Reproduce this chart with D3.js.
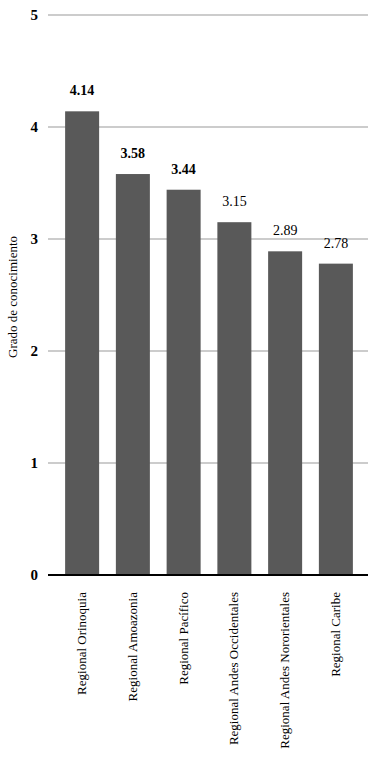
<!DOCTYPE html>
<html>
<head>
<meta charset="utf-8">
<script src="https://cdn.jsdelivr.net/npm/d3@7.9.0/dist/d3.min.js"></script>
<style>
  html, body { margin: 0; padding: 0; background: #fff; }
  svg text { font-family: "Times New Roman", "Liberation Serif", "DejaVu Serif", serif; fill: #000; }
</style>
</head>
<body>
<div id="chart"></div>
<script>
// ---- data ----
const regions = [
  'Regional Orinoquia',
  'Regional Amoazonia',
  'Regional Pacífico',
  'Regional Andes Occidentales',
  'Regional Andes Nororientales',
  'Regional Caribe'
];
const values = [4.14, 3.58, 3.44, 3.15, 2.89, 2.78];
const yTicks = [0, 1, 2, 3, 4, 5];
const yTitle = 'Grado de conocimiento';

const width = 375, height = 772;
const svg = d3.select('#chart').append('svg')
  .attr('width', width)
  .attr('height', height);

// plot area
const plot = { left: 48, right: 368, top: 15, bottom: 575 };

const x = d3.scaleBand()
  .domain(regions)
  .range([57, 361])
  .paddingInner(0.33)
  .paddingOuter(0.16);

const y = d3.scaleLinear().domain([0, 5]).range([plot.bottom, plot.top]);

// gridlines
svg.append('g')
  .selectAll('line')
  .data(yTicks.filter(d => d > 0))
  .join('line')
  .attr('x1', plot.left).attr('x2', plot.right)
  .attr('y1', d => y(d)).attr('y2', d => y(d))
  .attr('stroke', '#999')
  .attr('stroke-width', 1);

// y tick labels
svg.append('g')
  .selectAll('text')
  .data(yTicks)
  .join('text')
  .attr('x', 38)
  .attr('y', d => y(d))
  .attr('dy', '0.35em')
  .attr('text-anchor', 'end')
  .attr('font-size', 15)
  .attr('font-weight', 'bold')
  .text(d => d);

// bars
svg.append('g')
  .selectAll('rect')
  .data(values)
  .join('rect')
  .attr('x', (d, i) => x(regions[i]))
  .attr('y', d => y(d))
  .attr('width', x.bandwidth())
  .attr('height', d => y(0) - y(d))
  .attr('fill', '#595959');

// value labels
svg.append('g')
  .selectAll('text')
  .data(values)
  .join('text')
  .attr('x', (d, i) => x(regions[i]) + x.bandwidth() / 2)
  .attr('y', d => y(d) - 16)
  .attr('text-anchor', 'middle')
  .attr('font-size', 14)
  .attr('font-weight', (d, i) => i < 3 ? 'bold' : 'normal')
  .text(d => d.toFixed(2));

// zero baseline
svg.append('line')
  .attr('x1', plot.left).attr('x2', plot.right)
  .attr('y1', y(0)).attr('y2', y(0))
  .attr('stroke', '#000')
  .attr('stroke-width', 2);

// category labels (rotated)
svg.append('g')
  .selectAll('text')
  .data(regions)
  .join('text')
  .attr('transform', d => `translate(${x(d) + x.bandwidth() / 2 + 4},592) rotate(-90)`)
  .attr('text-anchor', 'end')
  .attr('font-size', 13)
  .text(d => d);

// y axis title
svg.append('text')
  .attr('transform', `translate(17,${(plot.top + plot.bottom) / 2 + 2}) rotate(-90)`)
  .attr('text-anchor', 'middle')
  .attr('font-size', 13)
  .text(yTitle);
</script>
</body>
</html>
